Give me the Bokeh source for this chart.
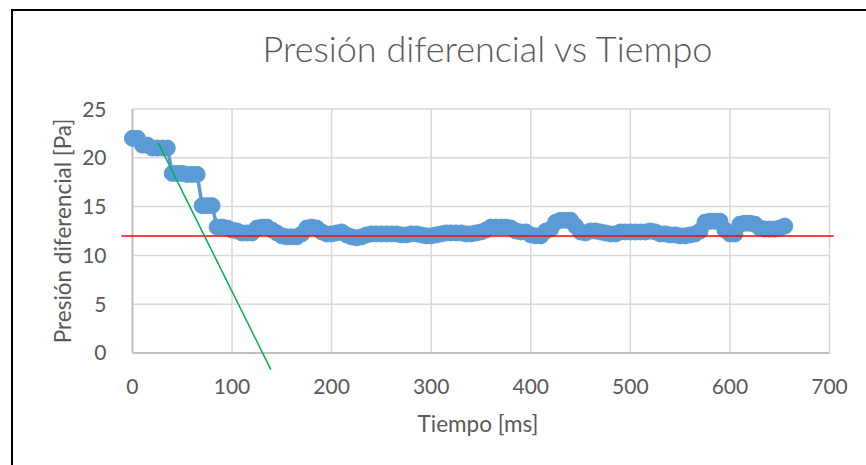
from bokeh.plotting import figure
from bokeh.models import Range1d, FixedTicker
from bokeh.embed import file_html
from bokeh.resources import INLINE

# ---- data ----
time_ms = [0, 5, 10, 15, 20, 25, 30, 35, 40, 45, 50, 55, 60, 65, 70, 75, 80, 85, 90, 95,
           100, 105, 110, 115, 120, 125, 130, 135, 140, 145, 150, 155, 160, 165, 170, 175, 180, 185, 190, 195,
           200, 205, 210, 215, 220, 225, 230, 235, 240, 245, 250, 255, 260, 265, 270, 275, 280, 285, 290, 295,
           300, 305, 310, 315, 320, 325, 330, 335, 340, 345, 350, 355, 360, 365, 370, 375, 380, 385, 390, 395,
           400, 405, 410, 415, 420, 425, 430, 435, 440, 445, 450, 455, 460, 465, 470, 475, 480, 485, 490, 495,
           500, 505, 510, 515, 520, 525, 530, 535, 540, 545, 550, 555, 560, 565, 570, 575, 580, 585, 590, 595,
           600, 605, 610, 615, 620, 625, 630, 635, 640, 645, 650, 655]
pressure_pa = [22.0, 22.0, 21.3, 21.3, 21.0, 21.0, 21.0, 21.0, 18.4, 18.4, 18.4, 18.3, 18.3, 18.3, 15.1, 15.1, 15.1, 12.9, 12.9, 12.8,
               12.6, 12.5, 12.3, 12.3, 12.3, 12.8, 12.9, 12.9, 12.6, 12.3, 12.0, 11.9, 11.9, 11.9, 12.2, 12.8, 12.9, 12.8, 12.4, 12.2,
               12.2, 12.3, 12.4, 12.1, 11.9, 11.8, 11.9, 12.1, 12.2, 12.2, 12.2, 12.2, 12.2, 12.2, 12.1, 12.1, 12.2, 12.2, 12.1, 12.0,
               12.0, 12.1, 12.2, 12.3, 12.3, 12.3, 12.3, 12.2, 12.2, 12.3, 12.4, 12.6, 12.9, 12.9, 12.9, 12.9, 12.8, 12.5, 12.4, 12.4,
               12.1, 12.0, 12.0, 12.5, 12.7, 13.4, 13.6, 13.6, 13.6, 13.0, 12.4, 12.3, 12.5, 12.5, 12.4, 12.3, 12.2, 12.2, 12.4, 12.4,
               12.4, 12.4, 12.4, 12.4, 12.5, 12.4, 12.2, 12.2, 12.1, 12.1, 12.0, 12.0, 12.1, 12.2, 12.5, 13.4, 13.5, 13.5, 13.5, 12.6,
               12.2, 12.2, 13.2, 13.3, 13.3, 13.2, 12.8, 12.7, 12.7, 12.7, 12.8, 13.0]

x_ticks = [0, 100, 200, 300, 400, 500, 600, 700]
y_ticks = [0, 5, 10, 15, 20, 25]

ref_level_x = [-11, 704]
ref_level_y = [12, 12]
tangent_x = [26, 139]
tangent_y = [21.5, -1.7]

TXT = "#595959"
FONT = "Lato"

p = figure(width=866, height=465,
           x_range=Range1d(-12, 706), y_range=Range1d(-2, 27),
           output_backend="svg", toolbar_location=None,
           min_border_left=120, min_border_right=31,
           min_border_top=89, min_border_bottom=93,
           # chart-area frame: black line on the left and top edges only
           styles={"box-shadow": "inset 11px 9px 0 0 #ffffff, inset 13px 11px 0 0 #000000",
                   "background-color": "#ffffff"},
           background_fill_color="white", border_fill_color=None)
p.outline_line_color = None

# title
p.title.text = "Presión diferencial vs Tiempo"
p.title.align = "left"
p.title.offset = 142
p.title.text_font = "Lato Light"
p.title.text_font_size = "36px"
p.title.text_font_style = "normal"
p.title.text_color = TXT
p.title.standoff = 40

# axes
for ax in (p.xaxis[0], p.yaxis[0]):
    ax.axis_line_color = None
    ax.major_tick_line_color = None
    ax.minor_tick_line_color = None
    ax.major_label_text_font = FONT
    ax.major_label_text_font_size = "21px"
    ax.major_label_text_color = TXT
    ax.axis_label_text_font = FONT
    ax.axis_label_text_font_size = "22.5px"
    ax.axis_label_text_font_style = "normal"
    ax.axis_label_text_color = TXT

p.xaxis.ticker = FixedTicker(ticks=x_ticks)
p.yaxis.ticker = FixedTicker(ticks=y_ticks)
p.xaxis.axis_label = "Tiempo [ms]"
p.yaxis.axis_label = "Presión diferencial [Pa]"
p.xaxis.major_label_standoff = 0
p.xaxis.axis_label_standoff = 13
p.yaxis.major_label_standoff = 8
p.yaxis.axis_label_standoff = 3

p.xgrid.grid_line_color = None
p.ygrid.grid_line_color = None

# gridlines of the plot area (0..700, 0..25)
x_lo, x_hi = x_ticks[0], x_ticks[-1]
y_lo, y_hi = y_ticks[0], y_ticks[-1]
vx = x_ticks[1:]
p.segment(x0=vx, y0=[y_lo] * len(vx), x1=vx, y1=[y_hi] * len(vx),
          line_color="#D9D9D9", line_width=1.5)
hy = y_ticks[1:]
p.segment(x0=[x_lo] * len(hy), y0=hy, x1=[x_hi] * len(hy), y1=hy,
          line_color="#D9D9D9", line_width=1.5)
# axis lines
p.segment(x0=[x_lo, x_lo], y0=[y_lo, y_lo], x1=[x_hi, x_lo], y1=[y_lo, y_hi],
          line_color="#BFBFBF", line_width=2)

# data series
p.line(time_ms, pressure_pa, line_color="#5B9BD5", line_width=3.5)
p.scatter(time_ms, pressure_pa, size=16, fill_color="#5B9BD5", line_color="#5B9BD5")

# reference lines
p.line(ref_level_x, ref_level_y, line_color="#FF0000", line_width=1.5)
p.line(tangent_x, tangent_y, line_color="#00B050", line_width=1.5)

open("out.html", "w").write(file_html(p, INLINE))
